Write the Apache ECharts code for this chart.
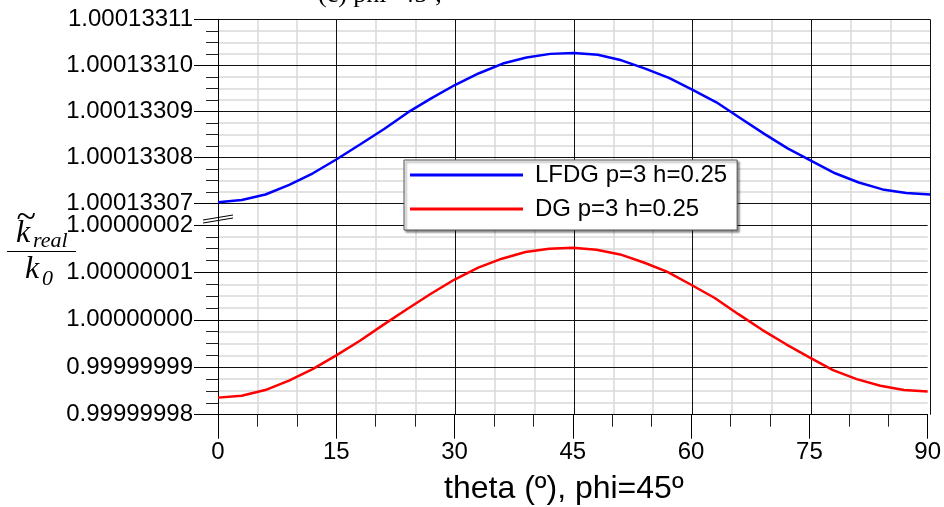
<!DOCTYPE html>
<html>
<head>
<meta charset="utf-8">
<script src="https://cdn.jsdelivr.net/npm/echarts@6/dist/echarts.min.js"></script>
<style>html,body{margin:0;padding:0;background:#fff}#c{width:944px;height:507px}</style>
</head>
<body>
<div id="c"></div>
<script>
// ---- data ----
var theta = [0,3,6,9,12,15,18,21,24,27,30,33,36,39,42,45,48,51,54,57,60,63,66,69,72,75,78,81,84,87,90];
var lfdg = [1.0001330703,1.0001330708,1.0001330720,1.0001330741,1.0001330766,1.00013307965,1.0001330829,1.0001330862,1.0001330898,1.0001330929,1.0001330958,1.0001330983,1.0001331004,1.0001331017,1.0001331025,1.0001331027,1.0001331023,1.0001331011,1.0001330993,1.0001330973,1.0001330947,1.0001330920,1.0001330886,1.0001330852,1.0001330820,1.0001330793,1.0001330766,1.0001330746,1.0001330731,1.0001330723,1.0001330720];
var dg = [0.9999999836,0.9999999840,0.9999999852,0.9999999872,0.9999999896,0.9999999925,0.9999999956,0.9999999990,1.0000000023,1.0000000055,1.0000000085,1.0000000110,1.0000000129,1.0000000143,1.0000000150,1.0000000152,1.0000000148,1.0000000138,1.0000000121,1.0000000101,1.0000000074,1.0000000046,1.0000000012,0.9999999979,0.9999999949,0.9999999921,0.9999999894,0.9999999875,0.9999999861,0.9999999852,0.9999999849];
var seriesNames = ['LFDG p=3 h=0.25','DG p=3 h=0.25'];
var topRange = [1.00013307, 1.00013311];
var bottomRange = [0.99999998, 1.00000002];
var yStep = 1e-8;
var xRange = [0, 90];
var xStep = 15;
var xTitle = 'theta (º), phi=45º';

function pairs(xs, ys){ return xs.map(function(x,i){ return [x, ys[i]]; }); }

var chart = echarts.init(document.getElementById('c'), null, {renderer:'canvas'});
var L = 218, R = 14;
var gTop = {left:L, right:R, top:19.3, height:184.4};
var gBot = {left:L, right:R, top:225, height:189.7};
var gBg  = {left:L, right:R, top:19.3, height:395.4};
var lab = {fontFamily:'Arial, "Liberation Sans", sans-serif', fontSize:24, color:'#000'};
var MINOR = {color:'#d9d9d9', width:1.5};
var MAJOR = {color:'#111', width:1};

// labelled y axis with ticks and major grid lines
function yAxisMain(gi, range){
  return {
    gridIndex: gi, type:'value', min: range[0], max: range[1], interval: yStep,
    axisLine:{show:false},
    axisTick:{show:true, length:24, lineStyle:{color:'#000', width:1}},
    minorTick:{show:true, splitNumber:4, length:12, lineStyle:{color:'#222', width:1}},
    splitLine:{show:true, lineStyle:MAJOR},
    minorSplitLine:{show:false},
    axisLabel:Object.assign({margin:25, formatter:function(v){ return v.toFixed(8); }}, lab),
    z: 3
  };
}
// same scale, only the light minor grid lines (drawn underneath)
function yAxisMinor(gi, range){
  return {
    gridIndex: gi, type:'value', min: range[0], max: range[1], interval: yStep,
    axisLine:{show:false}, axisTick:{show:false}, axisLabel:{show:false},
    minorTick:{show:false, splitNumber:4},
    splitLine:{show:false},
    minorSplitLine:{show:true, lineStyle:MINOR},
    z: 0
  };
}

var option = {
  animation:false,
  backgroundColor:'#fff',
  grid:[Object.assign({}, gTop), Object.assign({}, gBot), Object.assign({}, gBg)],
  xAxis:[
    {gridIndex:0, type:'value', min:xRange[0], max:xRange[1], interval:xStep, show:false},
    {gridIndex:1, type:'value', min:xRange[0], max:xRange[1], interval:xStep,
     axisLine:{show:true, lineStyle:{color:'#000', width:1}},
     axisTick:{show:true, length:24, lineStyle:{color:'#000', width:1}},
     minorTick:{show:true, splitNumber:3, length:12, lineStyle:{color:'#222', width:1}},
     splitLine:{show:false},
     axisLabel:Object.assign({margin:26}, lab),
     name:xTitle, nameLocation:'middle', nameGap:58,
     nameTextStyle:{fontFamily:'Arial, "Liberation Sans", sans-serif', fontSize:32, color:'#000', padding:[0,18,0,0]}, z:4},
    // background: vertical minor grid lines (bottom layer)
    {gridIndex:2, type:'value', min:xRange[0], max:xRange[1], interval:xStep,
     axisLine:{show:false}, axisTick:{show:false}, axisLabel:{show:false},
     minorTick:{show:false, splitNumber:3},
     splitLine:{show:false},
     minorSplitLine:{show:true, lineStyle:MINOR}, z:0},
    // background: vertical major grid lines (upper layer)
    {gridIndex:2, type:'value', min:xRange[0], max:xRange[1], interval:xStep, position:'top',
     axisLine:{show:false}, axisTick:{show:false}, axisLabel:{show:false},
     splitLine:{show:true, lineStyle:MAJOR}, z:3}
  ],
  yAxis:[
    yAxisMain(0, topRange),
    yAxisMain(1, bottomRange),
    {gridIndex:2, type:'value', min:0, max:1, axisLine:{show:true, lineStyle:{color:'#000', width:1}},
     axisTick:{show:false}, axisLabel:{show:false}, splitLine:{show:false}, z:4},
    yAxisMinor(0, topRange),
    yAxisMinor(1, bottomRange)
  ],
  legend:{
    orient:'vertical', left:404, top:160, padding:[0,10,6,6],
    itemWidth:113, itemHeight:3, itemGap:4, icon:'rect',
    backgroundColor:'#fff', borderColor:'#555', borderWidth:1,
    shadowColor:'rgba(0,0,0,0.45)', shadowOffsetX:2, shadowOffsetY:2, shadowBlur:2,
    textStyle:{fontFamily:'Arial, "Liberation Sans", sans-serif', fontSize:24, color:'#000', lineHeight:30, padding:[0,0,0,7]},
    data:seriesNames
  },
  series:[
    {name:seriesNames[0], type:'line', xAxisIndex:0, yAxisIndex:0, data:pairs(theta, lfdg),
     showSymbol:false, symbol:'none', color:'#0000ff', lineStyle:{color:'#0000ff', width:2.5}, z:5},
    {name:seriesNames[1], type:'line', xAxisIndex:1, yAxisIndex:1, data:pairs(theta, dg),
     showSymbol:false, symbol:'none', color:'#ff0000', lineStyle:{color:'#ff0000', width:2.5}, z:5}
  ],
  graphic:[
    // axis break mark
    {type:'line', shape:{x1:203, y1:220, x2:233, y2:215}, style:{stroke:'#000', lineWidth:1}, z:10},
    {type:'line', shape:{x1:203, y1:223, x2:233, y2:218}, style:{stroke:'#000', lineWidth:1}, z:10},
    // y-axis title: k~_real / k_0
    {type:'text', left:16, top:201, style:{text:'~', font:'italic 36px "Liberation Serif", serif', fill:'#000'}},
    {type:'text', left:16, top:218, style:{text:'k', font:'italic 32px "Liberation Serif", serif', fill:'#000'}},
    {type:'text', left:33, top:230, style:{text:'real', font:'italic 22px "Liberation Serif", serif', fill:'#000'}},
    {type:'line', shape:{x1:7, y1:251.5, x2:76, y2:251.5}, style:{stroke:'#000', lineWidth:1.2}},
    {type:'text', left:25, top:254, style:{text:'k', font:'italic 32px "Liberation Serif", serif', fill:'#000'}},
    {type:'text', left:42, top:268, style:{text:'0', font:'italic 22px "Liberation Serif", serif', fill:'#000'}},
    // cropped caption at top
    {type:'text', left:318, top:-18, style:{text:'(c) phi=45º,', font:'26px "Liberation Serif", serif', fill:'#000'}}
  ]
};
chart.setOption(option);
</script>
</body>
</html>
